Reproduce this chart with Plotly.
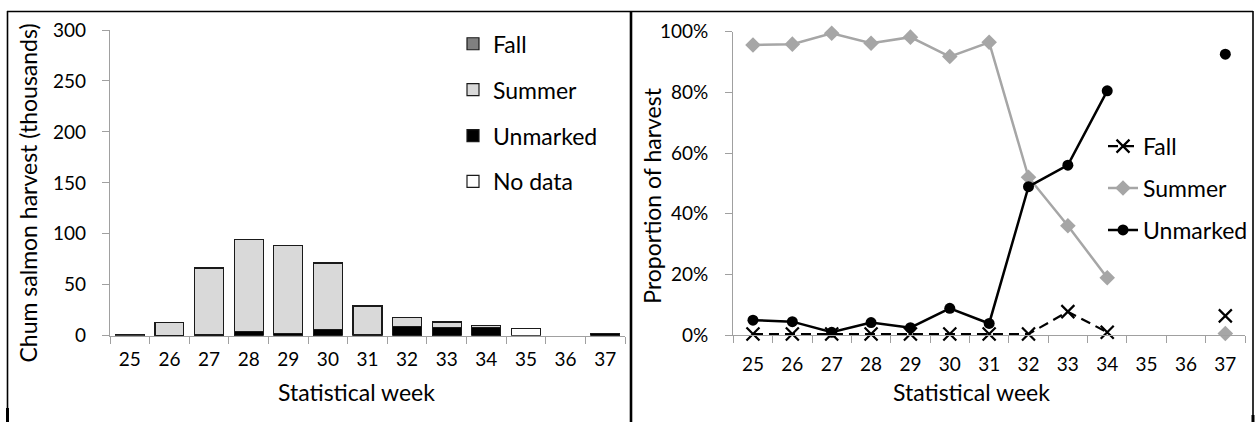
import plotly.graph_objects as go

W, H = 1255, 422

weeks = ["25", "26", "27", "28", "29", "30", "31", "32", "33", "34", "35", "36", "37"]

# Harvest (thousands) by stock, stacked
harv_nodata = [None, None, None, None, None, None, None, None, None, None, 6.8, None, None]
harv_unmarked = [0.07, 0.5, 0.6, 3.9, 2.1, 6.2, 1.1, 8.8, 7.9, 8.2, None, None, 2.1]
harv_summer = [1.4, 12.5, 65.7, 90.5, 86.4, 64.9, 28.0, 9.4, 5.1, 1.9, None, None, 0.01]
harv_fall = [0.005, 0.04, 0.2, 0.3, 0.3, 0.2, 0.1, 0.05, 1.1, 0.1, None, None, 0.15]

# Proportion of harvest
prop_fall = [0.003, 0.003, 0.003, 0.003, 0.003, 0.003, 0.003, 0.003, 0.077, 0.009, None, None, 0.063]
prop_summer = [0.956, 0.959, 0.995, 0.962, 0.982, 0.918, 0.965, 0.52, 0.36, 0.189, None, None, 0.005]
prop_unmarked = [0.049, 0.044, 0.009, 0.041, 0.024, 0.088, 0.038, 0.489, 0.56, 0.805, None, None, 0.926]

left_yticks = [0, 50, 100, 150, 200, 250, 300]
right_yticks = [0, 0.2, 0.4, 0.6, 0.8, 1.0]

FONT = "Lato"
TXT = "#000000"
AX = "#a0a0a0"
TSIZE = 23


def px_x(p):
    return p / W


def px_y(p):
    return 1 - p / H


fig = go.Figure()

bar_specs = [
    ("No data", harv_nodata, "#ffffff", 4),
    ("Unmarked", harv_unmarked, "#000000", 3),
    ("Summer", harv_summer, "#d9d9d9", 2),
    ("Fall", harv_fall, "#808080", 1),
]
for name, vals, col, rank in bar_specs:
    fig.add_trace(go.Bar(
        x=weeks, y=vals, name=name, xaxis="x", yaxis="y",
        marker=dict(color=col, line=dict(color="#1a1a1a", width=1.2)),
        legend="legend", legendgroup="b" + name, legendrank=rank,
    ))

fig.add_trace(go.Scatter(
    x=weeks, y=prop_fall, name="Fall", xaxis="x2", yaxis="y2", mode="lines+markers",
    line=dict(color="#000000", width=2.2, dash="10px,6px"),
    marker=dict(symbol="x-thin-open", size=13, line=dict(color="#000000", width=2.2)),
    cliponaxis=False, legend="legend2", legendgroup="lf",
))
fig.add_trace(go.Scatter(
    x=weeks, y=prop_summer, name="Summer", xaxis="x2", yaxis="y2", mode="lines+markers",
    line=dict(color="#a6a6a6", width=2.5),
    marker=dict(symbol="diamond", size=12, color="#a6a6a6"),
    cliponaxis=False, legend="legend2", legendgroup="ls",
))
fig.add_trace(go.Scatter(
    x=weeks, y=prop_unmarked, name="Unmarked", xaxis="x2", yaxis="y2", mode="lines+markers",
    line=dict(color="#000000", width=2.5),
    marker=dict(symbol="circle", size=11, color="#000000"),
    cliponaxis=False, legend="legend2", legendgroup="lu",
))

axis_common = dict(
    showline=True, linecolor=AX, linewidth=1.3, ticks="outside", tickcolor=AX,
    ticklen=7, tickwidth=1.3, showgrid=False, zeroline=False, automargin=False,
    tickfont=dict(family=FONT, size=19, color=TXT),
)

fig.update_layout(
    template="none",
    width=W, height=H, margin=dict(l=0, r=0, t=0, b=0, autoexpand=False),
    paper_bgcolor="white", plot_bgcolor="white",
    barmode="stack", bargap=0.27,
    font=dict(family=FONT, color=TXT),
    xaxis=dict(domain=[px_x(110), px_x(625)], anchor="y", type="category",
               range=[-0.5, 12.5], tickson="boundaries", ticklabelstandoff=6, **axis_common),
    yaxis=dict(domain=[px_y(335.7), px_y(30)], anchor="x", range=[0, 300],
               tickvals=left_yticks, ticklabelstandoff=12, **axis_common),
    xaxis2=dict(domain=[px_x(733.3), px_x(1245)], anchor="y2", type="category",
                range=[-0.5, 12.5], tickson="boundaries", ticklabelstandoff=12, **axis_common),
    yaxis2=dict(domain=[px_y(335), px_y(31.7)], anchor="x2", range=[0, 1],
                tickvals=right_yticks, tickformat=".0%", ticklabelstandoff=13, **axis_common),
    legend=dict(x=px_x(453), y=px_y(22.3), xanchor="left", yanchor="top",
                traceorder="grouped", tracegroupgap=13,
                font=dict(family=FONT, size=TSIZE, color=TXT), bgcolor="rgba(0,0,0,0)",
                itemwidth=30),
    legend2=dict(x=px_x(1103), y=px_y(124.7), xanchor="left", yanchor="top",
                 traceorder="grouped", tracegroupgap=9,
                 font=dict(family=FONT, size=TSIZE, color=TXT), bgcolor="rgba(0,0,0,0)",
                 itemwidth=30),
    showlegend=True,
)

annos = [
    dict(text="Chum salmon harvest (thousands)", x=px_x(28), y=px_y(193.5), textangle=-90),
    dict(text="Statistical week", x=px_x(356), y=px_y(392)),
    dict(text="Proportion of harvest", x=px_x(651.7), y=px_y(196), textangle=-90),
    dict(text="Statistical week", x=px_x(971), y=px_y(392)),
]
for a in annos:
    fig.add_annotation(xref="paper", yref="paper", showarrow=False,
                       xanchor="center", yanchor="middle",
                       font=dict(family=FONT, size=TSIZE, color=TXT), **a)

# Frame lines of the figure panel
shapes = [
    (7, 11.5, 1253, 11.5, 1.6),
    (7.5, 11, 7.5, 422, 1.6),
    (631, 11, 631, 422, 2.6),
    (1253, 11, 1253, 422, 1.6),
    (7.5, 408, 7.5, 422, 3),
    (1253, 415, 1253, 422, 3),
]
for x0, y0, x1, y1, w in shapes:
    fig.add_shape(type="line", xref="paper", yref="paper",
                  x0=px_x(x0), y0=px_y(y0), x1=px_x(x1), y1=px_y(y1),
                  line=dict(color="#000000", width=w))

fig.write_html("out.html")
